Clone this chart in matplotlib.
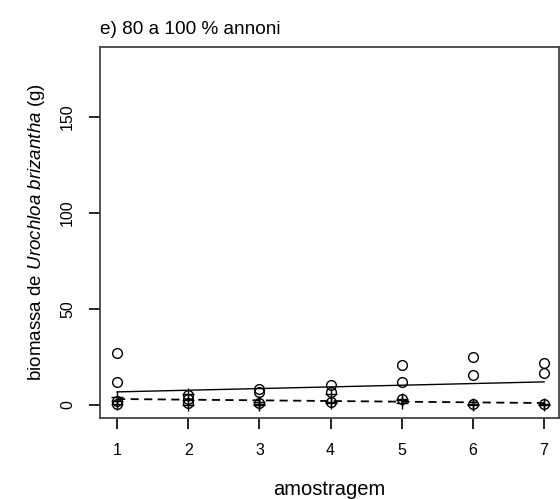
import matplotlib
matplotlib.use('Agg')
import matplotlib.pyplot as plt
import numpy as np

plt.rcParams['font.family'] = ['Liberation Sans', 'DejaVu Sans']
plt.rcParams['mathtext.fontset'] = 'custom'
plt.rcParams['mathtext.rm'] = 'Liberation Sans'
plt.rcParams['mathtext.it'] = 'Liberation Sans:italic'

# valores
circ_x = [1, 1, 1, 1, 2, 2, 2, 3, 3, 3, 4, 4, 4, 5, 5, 5, 6, 6, 6, 7, 7, 7]
circ_y = [27, 12, 2, 0.5, 5, 3, 1, 8.5, 6.5, 1, 10.5, 6.5, 1.5,
          21, 12, 3, 25, 15.5, 0.5, 22, 16.5, 0.5]
plus_x = [1, 1, 1, 2, 2, 2, 3, 3, 3, 4, 4, 4, 5, 5, 5, 6, 6, 7, 7]
plus_y = [4, 2, 0.5, 5.5, 2.5, 0, 1.5, 0.5, 0, 5.5, 1.5, 1, 3, 2.5, 1, 0.5, 0, 0.5, 0]

# retas ajustadas (intercepto, inclinacao)
reta_circ = (5.93, 0.87)
reta_plus = (3.45, -0.35)

x_ticks = [1, 2, 3, 4, 5, 6, 7]
y_ticks = [0, 50, 100, 150]

fig = plt.figure(figsize=(5.6, 4.99), dpi=100)
ax = fig.add_axes([100 / 560, 1 - 418 / 499, 459 / 560, 371 / 499])

ax.plot(circ_x, circ_y, 'o', mfc='none', mec='black', ms=7, mew=1)
ax.plot(plus_x, plus_y, '+', color='black', ms=9, mew=1)

xr = np.array([1, 7])
ax.plot(xr, reta_circ[0] + reta_circ[1] * xr, color='black', lw=1)
ax.plot(xr, reta_plus[0] + reta_plus[1] * xr, color='black', lw=1.3, dashes=(4.5, 3))

ax.set_xlim(0.76, 7.21)
ax.set_ylim(-6.8, 186.5)
ax.set_xticks(x_ticks)
ax.set_yticks(y_ticks)
ax.tick_params(axis='both', direction='out', length=8, width=1.2, labelsize=11.5, pad=10)
for lab in ax.get_yticklabels():
    lab.set_rotation(90)
    lab.set_va('center')
for s in ax.spines.values():
    s.set_linewidth(1.3)
    s.set_color('#444444')

ax.set_xlabel('amostragem', fontsize=14.5, labelpad=16)
ax.set_ylabel(r'biomassa de $\mathit{Urochloa\ brizantha}$ (g)', fontsize=13.5, labelpad=9)

fig.text(100 / 560, 1 - 34 / 499, 'e) 80 a 100 % annoni', fontsize=13.7, ha='left', va='baseline')

fig.savefig('out.png', dpi=100)
